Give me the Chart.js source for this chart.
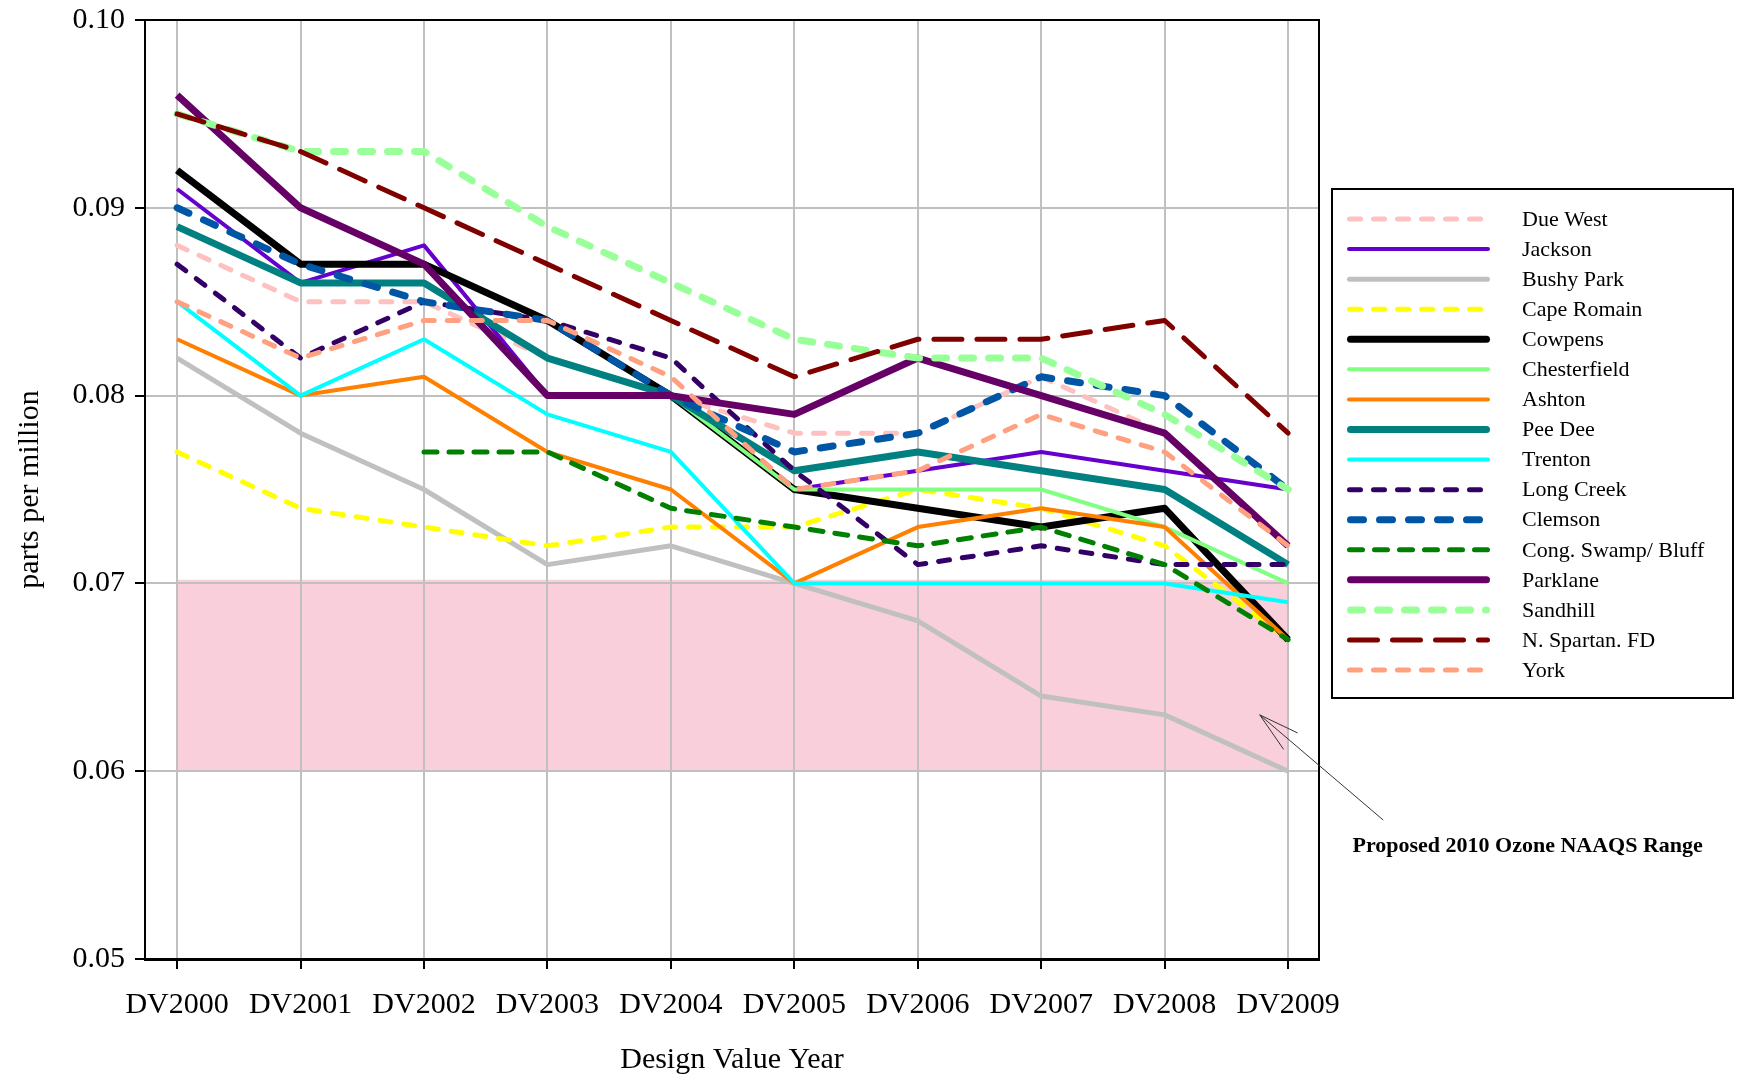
<!DOCTYPE html>
<html lang="en">
<head>
  <meta charset="UTF-8" />
  <title>Ozone design values by site</title>
  <script src="https://cdn.jsdelivr.net/npm/chart.js"></script>
  <style>
    html, body { margin: 0; padding: 0; background: #fff; }
    .chart-wrapper { position: relative; width: 1737px; height: 1080px; }
  </style>
</head>
<body>

<div class="chart-wrapper">
  <canvas id="chartOzone"></canvas>
</div>

<script>
  // design value years on the x axis
  const years = ['DV2000', 'DV2001', 'DV2002', 'DV2003', 'DV2004', 'DV2005', 'DV2006', 'DV2007', 'DV2008', 'DV2009'];
  const yTicks = [0.05, 0.06, 0.07, 0.08, 0.09, 0.10];

  // ozone design values, ppm
  const dueWest      = [0.088, 0.085, 0.085, 0.082, 0.080, 0.078, 0.078, 0.081, 0.078, 0.072];
  const jackson      = [0.091, 0.086, 0.088, 0.080, 0.080, 0.075, 0.076, 0.077, 0.076, 0.075];
  const bushyPark    = [0.082, 0.078, 0.075, 0.071, 0.072, 0.070, 0.068, 0.064, 0.063, 0.060];
  const capeRomain   = [0.077, 0.074, 0.073, 0.072, 0.073, 0.073, 0.075, 0.074, 0.072, 0.067];
  const cowpens      = [0.092, 0.087, 0.087, 0.084, 0.080, 0.075, 0.074, 0.073, 0.074, 0.067];
  const chesterfield = [null, null, null, null, 0.080, 0.075, 0.075, 0.075, 0.073, 0.070];
  const ashton       = [0.083, 0.080, 0.081, 0.077, 0.075, 0.070, 0.073, 0.074, 0.073, 0.067];
  const peeDee       = [0.089, 0.086, 0.086, 0.082, 0.080, 0.076, 0.077, 0.076, 0.075, 0.071];
  const trenton      = [0.085, 0.080, 0.083, 0.079, 0.077, 0.070, 0.070, 0.070, 0.070, 0.069];
  const longCreek    = [0.087, 0.082, 0.085, 0.084, 0.082, 0.076, 0.071, 0.072, 0.071, 0.071];
  const clemson      = [0.090, 0.087, 0.085, 0.084, 0.080, 0.077, 0.078, 0.081, 0.080, 0.075];
  const congSwamp    = [null, null, 0.077, 0.077, 0.074, 0.073, 0.072, 0.073, 0.071, 0.067];
  const parklane     = [0.096, 0.090, 0.087, 0.080, 0.080, 0.079, 0.082, 0.080, 0.078, 0.072];
  const sandhill     = [0.095, 0.093, 0.093, 0.089, 0.086, 0.083, 0.082, 0.082, 0.079, 0.075];
  const nSpartan     = [0.095, 0.093, 0.090, 0.087, 0.084, 0.081, 0.083, 0.083, 0.084, 0.078];
  const york         = [0.085, 0.082, 0.084, 0.084, 0.081, 0.075, 0.076, 0.079, 0.077, 0.072];

  // proposed 2010 NAAQS range (shaded band)
  const bandLow = 0.060;
  const bandHigh = 0.0702;

  // series: name, values, colour, width, dash
  const series = [
    ['Due West', dueWest, '#ffc0c0', 5, [11, 13]],
    ['Jackson', jackson, '#6600cc', 4, []],
    ['Bushy Park', bushyPark, '#c0c0c0', 5, []],
    ['Cape Romain', capeRomain, '#ffff00', 5, [11, 13]],
    ['Cowpens', cowpens, '#000000', 7, []],
    ['Chesterfield', chesterfield, '#80ff80', 4, []],
    ['Ashton', ashton, '#ff8000', 4, []],
    ['Pee Dee', peeDee, '#008080', 7, []],
    ['Trenton', trenton, '#00ffff', 4, []],
    ['Long Creek', longCreek, '#330066', 5, [11, 13]],
    ['Clemson', clemson, '#0055a5', 7, [13, 16]],
    ['Cong. Swamp/ Bluff', congSwamp, '#008000', 5, [13, 12]],
    ['Parklane', parklane, '#660066', 7, []],
    ['Sandhill', sandhill, '#99ff99', 7, [12, 15]],
    ['N. Spartan. FD', nSpartan, '#800000', 5, [28, 15]],
    ['York', york, '#ffa080', 5, [11, 13]]
  ];

  const serif = '"Liberation Serif", "Times New Roman", serif';
  Chart.defaults.font.family = serif;
  Chart.defaults.color = '#000';

  const datasets = series.map(([name, vals, color, width, dash], i) => ({
    label: name,
    data: vals.map((v, j) => ({ x: j, y: v })),
    borderColor: color,
    backgroundColor: color,
    borderWidth: width,
    borderDash: dash,
    borderCapStyle: dash.length ? 'round' : 'butt',
    borderJoinStyle: 'round',
    pointRadius: 0,
    tension: 0,
    fill: false,
    order: series.length - i
  }));

  datasets.push({
    label: 'band',
    data: [{ x: 0, y: bandHigh }, { x: years.length - 1, y: bandHigh }],
    borderColor: 'transparent',
    borderWidth: 0,
    backgroundColor: 'rgb(249, 207, 219)',
    fill: { value: bandLow },
    pointRadius: 0,
    order: 100
  });

  // legend box + annotation arrow, drawn on the canvas
  const extrasPlugin = {
    id: 'extras',
    afterDraw(chart) {
      const ctx = chart.ctx;
      const a = chart.chartArea;
      const xs = chart.scales.x, ys = chart.scales.y;
      ctx.save();

      // plot frame
      ctx.strokeStyle = '#000';
      ctx.lineWidth = 2;
      ctx.setLineDash([]);
      ctx.strokeRect(a.left, a.top, a.right - a.left, a.bottom - a.top);

      // legend
      const box = { left: 1332, top: 189, right: 1733, bottom: 698 };
      ctx.lineWidth = 2;
      ctx.strokeRect(box.left, box.top, box.right - box.left, box.bottom - box.top);
      ctx.font = '22px ' + serif;
      ctx.textBaseline = 'middle';
      ctx.textAlign = 'left';
      series.forEach(([name, , color, width, dash], i) => {
        const y = 219 + i * 30.07;
        ctx.beginPath();
        ctx.setLineDash(dash);
        ctx.lineCap = 'round';
        ctx.lineWidth = width;
        ctx.strokeStyle = color;
        ctx.moveTo(1347 + width / 2, y);
        ctx.lineTo(1490 - width / 2, y);
        ctx.stroke();
        ctx.fillStyle = '#000';
        ctx.fillText(name, 1522, y + 1);
      });

      // annotation arrow pointing at the band
      ctx.setLineDash([]);
      ctx.lineCap = 'butt';
      ctx.strokeStyle = '#333';
      ctx.lineWidth = 1;
      const tip = { x: xs.getPixelForValue(8.77), y: ys.getPixelForValue(0.063) };
      const tail = { x: xs.getPixelForValue(9.77), y: ys.getPixelForValue(0.0574) };
      const ang = Math.atan2(tail.y - tip.y, tail.x - tip.x);
      ctx.beginPath();
      ctx.moveTo(tail.x, tail.y);
      ctx.lineTo(tip.x, tip.y);
      [-0.26, 0.26].forEach(d => {
        ctx.moveTo(tip.x, tip.y);
        ctx.lineTo(tip.x + Math.cos(ang + d) * 42, tip.y + Math.sin(ang + d) * 42);
      });
      ctx.stroke();

      ctx.font = 'bold 22px ' + serif;
      ctx.textAlign = 'center';
      ctx.fillStyle = '#000';
      ctx.fillText('Proposed 2010 Ozone NAAQS Range', xs.getPixelForValue(10.94), ys.getPixelForValue(0.056));
      ctx.restore();
    }
  };

  new Chart(document.getElementById('chartOzone'), {
    type: 'line',
    data: { datasets },
    plugins: [extrasPlugin],
    options: {
      responsive: true,
      maintainAspectRatio: false,
      animation: false,
      events: [],
      layout: { padding: { top: 20, right: 418, bottom: 0, left: 0 } },
      plugins: {
        legend: { display: false },
        tooltip: { enabled: false },
        filler: { drawTime: 'beforeDraw' }
      },
      scales: {
        x: {
          type: 'linear',
          min: -0.26,
          max: 9.25,
          afterBuildTicks: scale => { scale.ticks = years.map((_, i) => ({ value: i })); },
          afterFit: scale => { scale.height = 121; },
          ticks: {
            font: { size: 30 },
            padding: 18,
            maxRotation: 0,
            autoSkip: false,
            callback: v => years[v]
          },
          grid: { color: '#c0c0c0', lineWidth: 2, tickLength: 10, tickColor: '#000', tickWidth: 2 },
          border: { color: '#000', width: 3 },
          title: { display: true, text: 'Design Value Year', font: { size: 30 }, padding: { top: 0, bottom: 2 } }
        },
        y: {
          min: 0.05,
          max: 0.10,
          afterBuildTicks: scale => { scale.ticks = yTicks.map(v => ({ value: v })); },
          afterFit: scale => { scale.width = 145; scale.paddingTop = 0; },
          ticks: {
            font: { size: 30 },
            padding: 10,
            callback: v => v.toFixed(2)
          },
          grid: { color: '#c0c0c0', lineWidth: 2, tickLength: 10, tickColor: '#000', tickWidth: 2 },
          border: { color: '#000', width: 2 },
          title: { display: true, text: 'parts per million', font: { size: 30 }, padding: { top: 12, bottom: 0 } }
        }
      }
    }
  });
</script>
</body>
</html>
